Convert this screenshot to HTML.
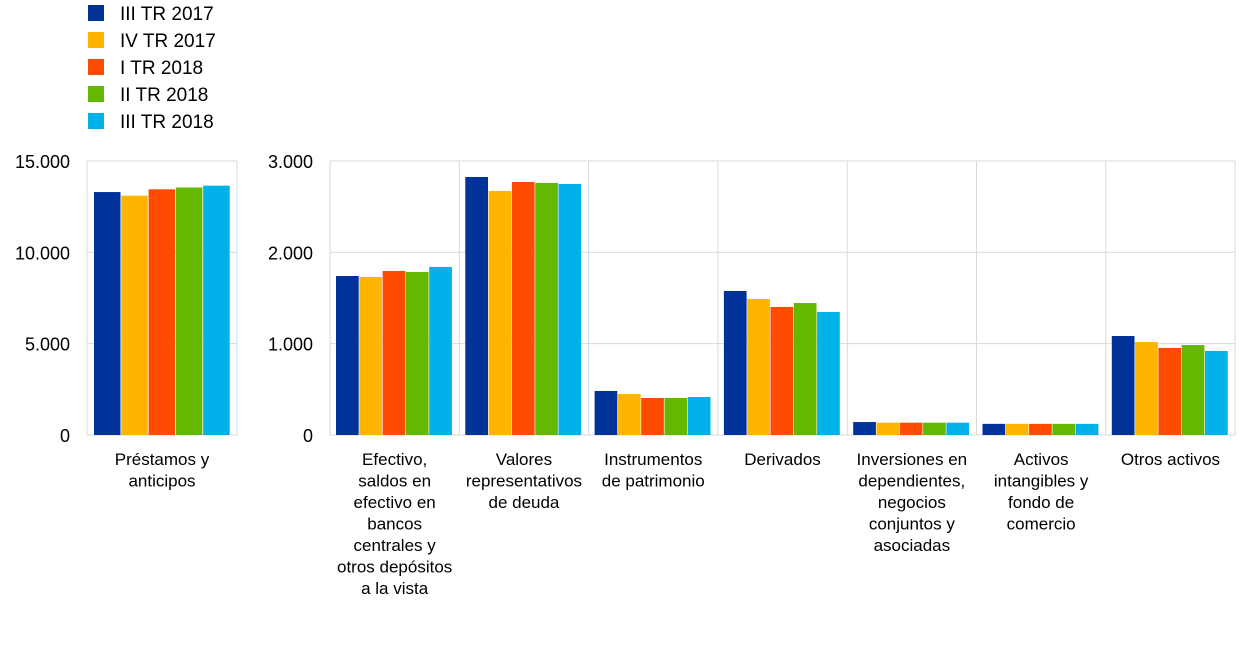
<!DOCTYPE html>
<html><head><meta charset="utf-8"><style>
body{margin:0;background:#fff;}
svg{display:block;font-family:"Liberation Sans",Arial,sans-serif;}
</style></head><body>
<svg id="chart" width="1240" height="648"></svg>
<script>
const series = ["III TR 2017","IV TR 2017","I TR 2018","II TR 2018","III TR 2018"];
const colors = ["#003299","#ffb400","#ff4b00","#65b800","#00b1ea"];
const leftCategory = ["Préstamos y","anticipos"];
const leftValues = [13300,13100,13450,13550,13650];
const leftTicks = [0,5000,10000,15000];
const leftTickLabels = ["0","5.000","10.000","15.000"];
const rightCategories = [
 ["Efectivo,","saldos en","efectivo en","bancos","centrales y","otros depósitos","a la vista"],
 ["Valores","representativos","de deuda"],
 ["Instrumentos","de patrimonio"],
 ["Derivados"],
 ["Inversiones en","dependientes,","negocios","conjuntos y","asociadas"],
 ["Activos","intangibles y","fondo de","comercio"],
 ["Otros activos"]];
const rightValues = [
 [1741,1730,1796,1785,1840],
 [2825,2672,2770,2760,2748],
 [482,449,405,405,416],
 [1577,1489,1402,1445,1347],
 [142,135,135,135,135],
 [122,122,122,122,122],
 [1084,1018,953,985,920]];
const rightTicks = [0,1000,2000,3000];
const rightTickLabels = ["0","1.000","2.000","3.000"];

const svg = document.getElementById('chart');
const NS = 'http://www.w3.org/2000/svg';
function mk(tag, attrs, parent){const e=document.createElementNS(NS,tag);for(const k in attrs)e.setAttribute(k,attrs[k]);(parent||svg).appendChild(e);return e;}
const y0=435, yTop=161;
const yL = v => y0-(v/15000)*(y0-yTop);
const yR = v => y0-(v/3000)*(y0-yTop);

// legend
series.forEach((s,i)=>{
  const r=mk('rect',{x:88,y:5+i*27,width:16,height:16,fill:colors[i]});
  
  
  const t=mk('text',{x:120,y:20+i*27,'font-size':19,fill:'#000'});
  t.textContent=s;
  
  
});

// left panel
const lx0=87, lx1=237;
leftTicks.forEach((v,i)=>{
  const l=mk('line',{x1:lx0,x2:lx1,y1:yL(v),y2:yL(v),stroke:'#d9d9d9','stroke-width':1});
  
  
  const t=mk('text',{x:70,y:yL(v)+7,'font-size':18,'text-anchor':'end'});
  t.textContent=leftTickLabels[i];
  
  
});
mk('line',{x1:lx0,x2:lx0,y1:yTop,y2:y0,stroke:'#d9d9d9'});
mk('line',{x1:lx1,x2:lx1,y1:yTop,y2:y0,stroke:'#d9d9d9'});
leftValues.forEach((v,i)=>{
  const b=mk('rect',{x:94+i*27.3,y:yL(v),width:26.5,height:y0-yL(v),fill:colors[i]});
  
  
});
leftCategory.forEach((ln,j)=>{
  const t=mk('text',{x:162,y:465+j*21.5,'font-size':17,'text-anchor':'middle'});
  t.textContent=ln;
  
  
});

// right panel
const rx0=330, gw=129.3, rx1=rx0+gw*7;
rightTicks.forEach((v,i)=>{
  const l=mk('line',{x1:rx0,x2:rx1,y1:yR(v),y2:yR(v),stroke:'#d9d9d9'});
  
  
  const t=mk('text',{x:313,y:yR(v)+7,'font-size':18,'text-anchor':'end'});
  t.textContent=rightTickLabels[i];
  
  
});
for(let g=0;g<=7;g++){
  const l=mk('line',{x1:rx0+g*gw,x2:rx0+g*gw,y1:yTop,y2:y0,stroke:'#d9d9d9'});
  
  
}
rightValues.forEach((vals,g)=>{
  vals.forEach((v,i)=>{
    const b=mk('rect',{x:rx0+g*gw+6+i*23.3,y:yR(v),width:22.7,height:y0-yR(v),fill:colors[i]});
    
    
  });
  rightCategories[g].forEach((ln,j)=>{
    const t=mk('text',{x:rx0+g*gw+gw/2,y:465+j*21.5,'font-size':17,'text-anchor':'middle'});
    t.textContent=ln;
    
    
  });
});
</script>
</body></html>
